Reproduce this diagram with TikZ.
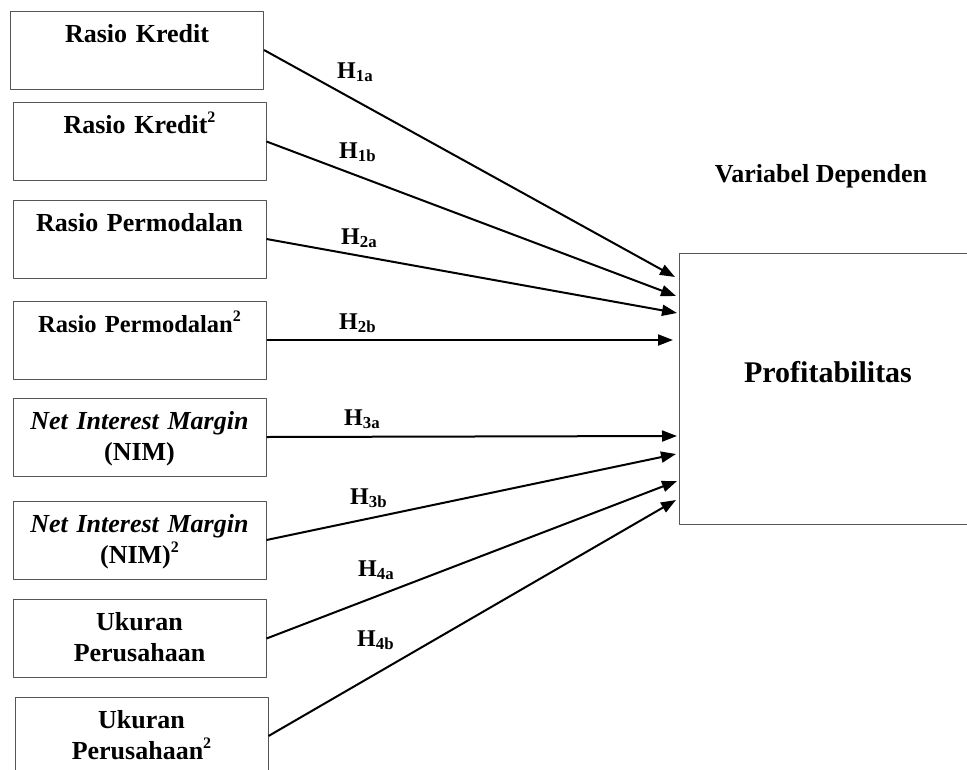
\documentclass[tikz,border=0pt]{standalone}
\usepackage{fontspec}
\setmainfont{Liberation Serif}
\usetikzlibrary{arrows.meta}
\definecolor{boxgray}{RGB}{85,85,85}
\newcommand{\kuadrat}{\raisebox{0.42em}{\fontsize{16}{16}\selectfont 2}}
\tikzset{
  varbox/.style={draw=boxgray, line width=1pt, minimum width=253pt, minimum height=78pt,
    text width=248pt, align=center, inner sep=0pt, text height=31pt, text depth=47pt,
    font=\bfseries\fontsize{26}{31}\selectfont},
  depbox/.style={draw=boxgray, line width=1pt, minimum width=298pt, minimum height=271pt,
    inner sep=0pt, text height=20pt, text depth=33pt, font=\bfseries\fontsize{30}{34}\selectfont},
  hyp/.style={anchor=base west, inner sep=0pt, font=\bfseries\fontsize{24}{28}\selectfont},
  link/.style={line width=2pt, -{Triangle[length=15pt,width=11pt]}}
}
\begin{document}
\begin{tikzpicture}[x=1pt, y=-1pt, line join=round]
\useasboundingbox (0,0) rectangle (967,769);
\clip (0,0) rectangle (967,769);

% variabel independen
\node[varbox] (k1) at (137,50) {Rasio Kredit};
\node[varbox] (k2) at (139.5,141.5) {Rasio Kredit\kuadrat};
\node[varbox] (m1) at (139.5,239) {Rasio Permodalan};
\node[varbox, font=\bfseries\fontsize{24.5}{31}\selectfont] (m2) at (139.5,340) {Rasio Permodalan\kuadrat};
\node[varbox] (n1) at (139.5,437) {\textit{Net Interest Margin}\\(NIM)};
\node[varbox] (n2) at (139.5,540) {\textit{Net Interest Margin}\\(NIM)\kuadrat};
\node[varbox] (u1) at (139.5,638.5) {Ukuran\\Perusahaan};
\node[varbox] (u2) at (141.5,736) {Ukuran\\Perusahaan\kuadrat};

% variabel dependen
\node[anchor=base, inner sep=0pt, font=\bfseries\fontsize{26}{31}\selectfont] (dep) at (821,182) {Variabel Dependen};
\node[depbox] (prof) at (828,388.5) {Profitabilitas};

% ujung panah
\coordinate (t1) at (675,277);
\coordinate (t2) at (676,296);
\coordinate (t3) at (677,313);
\coordinate (t4) at (673,340);
\coordinate (t5) at (677,436);
\coordinate (t6) at (676,454);
\coordinate (t7) at (677,481);
\coordinate (t8) at (676,500);

\foreach \src/\dst in {k1/t1, k2/t2, m1/t3, m2/t4, n1/t5, n2/t6, u1/t7, u2/t8}
    \draw[link] (\src.east) -- (\dst);

% hipotesis
\node[hyp] (h1a) at (337,78) {H\textsubscript{1a}};
\node[hyp] (h1b) at (339,158) {H\textsubscript{1b}};
\node[hyp] (h2a) at (341,244) {H\textsubscript{2a}};
\node[hyp] (h2b) at (339,329) {H\textsubscript{2b}};
\node[hyp] (h3a) at (344,425) {H\textsubscript{3a}};
\node[hyp] (h3b) at (350,504) {H\textsubscript{3b}};
\node[hyp] (h4a) at (358,576) {H\textsubscript{4a}};
\node[hyp] (h4b) at (357,646) {H\textsubscript{4b}};
\end{tikzpicture}
\end{document}
